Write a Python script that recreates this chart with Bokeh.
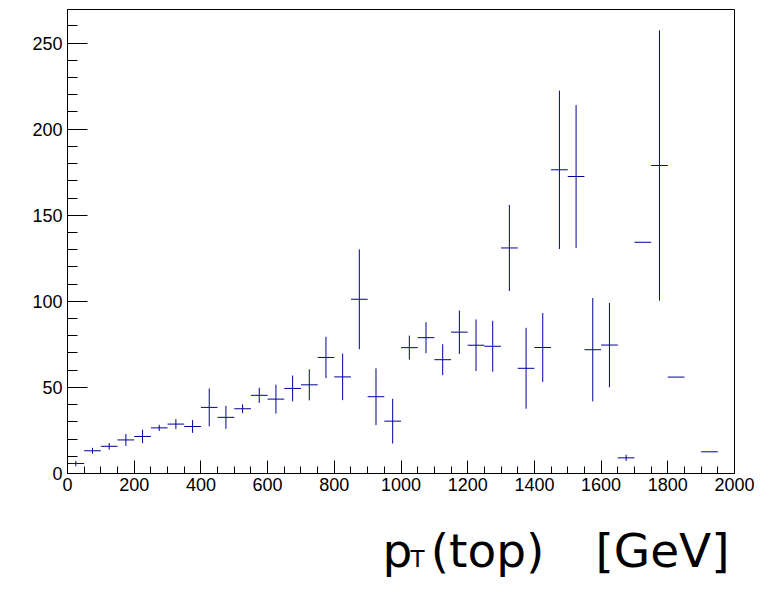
from bokeh.plotting import figure
from bokeh.models import Range1d, FixedTicker, ColumnDataSource
from bokeh.layouts import column
from bokeh.core.properties import value
from bokeh.embed import file_html
from bokeh.resources import INLINE

# ---- data: histogram of pT(top), 40 bins of 50 GeV from 0 to 2000 ----
bin_low = list(range(0, 2000, 50))
bin_width = 50
values = [5.8, 13.2, 15.8, 19.5, 21.5, 26.5, 28.7, 27.3, 38.4, 32.6,
          37.6, 45.4, 43.2, 49.4, 51.5, 67.4, 56.1, 101.2, 44.6, 30.4,
          73.1, 78.9, 66.1, 82.1, 74.5, 73.9, 131.0, 61.1, 73.2, 176.4,
          172.5, 71.9, 74.6, 9.1, 134.3, 178.9, 56.0, 0.0, 12.6, 0.0]
errors = [1.6, 1.7, 1.9, 3.5, 3.9, 1.8, 2.9, 3.7, 11.0, 6.7,
          2.6, 4.4, 8.4, 7.5, 9.0, 12.0, 13.5, 29.0, 16.5, 13.0,
          7.0, 9.0, 9.0, 12.6, 15.0, 14.8, 25.0, 23.5, 20.0, 46.0,
          41.5, 30.0, 24.5, 1.8, 0.0, 78.5, 0.0, 0.0, 0.0, 0.0]

x_ticks = list(range(0, 2001, 200))
x_minor = list(range(0, 2001, 50))
y_ticks = list(range(0, 251, 50))
y_minor = list(range(0, 271, 10))

# x-axis title "pT(top) [GeV]" (T drawn small)
x_title_p = "p"
x_title_sub = "T"
x_title_a = "(top)"
x_title_b = "[GeV]"

# ---- build source (skip empty bins) ----
lo, hi, ctr, val, ylo, yhi = [], [], [], [], [], []
for b, v, e in zip(bin_low, values, errors):
    if v == 0:
        continue
    lo.append(b)
    hi.append(b + bin_width)
    ctr.append(b + bin_width / 2)
    val.append(v)
    ylo.append(v - e)
    yhi.append(v + e)
src = ColumnDataSource(dict(lo=lo, hi=hi, ctr=ctr, val=val, ylo=ylo, yhi=yhi))

p = figure(width=777, height=505, output_backend="svg", toolbar_location=None,
           x_range=Range1d(0, 2000), y_range=Range1d(0, 269.5),
           min_border_left=67, min_border_right=43, min_border_top=9,
           min_border_bottom=32, background_fill_color="white",
           border_fill_color="white")

line_col = "#000099"
p.segment(x0="lo", x1="hi", y0="val", y1="val", source=src,
          line_color=line_col, line_width=1)
p.segment(x0="ctr", x1="ctr", y0="ylo", y1="yhi", source=src,
          line_color=line_col, line_width=1)

p.xgrid.visible = False
p.ygrid.visible = False
p.outline_line_color = "black"
p.outline_line_width = 1
p.outline_line_alpha = 1

p.xaxis.ticker = FixedTicker(ticks=x_ticks, minor_ticks=x_minor)
p.yaxis.ticker = FixedTicker(ticks=y_ticks, minor_ticks=y_minor)
for ax in (p.xaxis, p.yaxis):
    ax.major_tick_out = 0
    ax.minor_tick_out = 0
    ax.axis_line_color = "black"
    ax.major_tick_line_color = "black"
    ax.minor_tick_line_color = "black"
    ax.major_label_text_font = "Liberation Sans"
    ax.major_label_text_font_size = "18px"
    ax.major_label_text_color = "black"
p.xaxis.major_tick_in = 13
p.xaxis.minor_tick_in = 7
p.yaxis.major_tick_in = 20
p.yaxis.minor_tick_in = 10
p.xaxis.major_label_standoff = 4
p.yaxis.major_label_standoff = 5

# ---- x-axis title panel below the plot (coordinates = window pixels) ----
t = figure(width=777, height=89, output_backend="svg", toolbar_location=None,
           x_range=Range1d(67, 734), y_range=Range1d(0, 89),
           min_border_left=67, min_border_right=43, min_border_top=0,
           min_border_bottom=0, background_fill_color="white",
           border_fill_color="white")
t.axis.visible = False
t.grid.visible = False
t.outline_line_color = None

title_font = value("DejaVu Sans")
big, small = 47, 23
base = 28  # baseline, px above window bottom
t.text(x=[382], y=[base + 0.346 * big], text=[x_title_p], text_font=title_font,
       text_font_size=value(f"{big}px"), text_baseline="middle",
       text_align="left", text_color="black")
t.text(x=[410], y=[base + 0.346 * small], text=[x_title_sub], text_font=title_font,
       text_font_size=value(f"{small}px"), text_baseline="middle",
       text_align="left", text_color="black")
t.text(x=[487], y=[base + 0.346 * big], text=[x_title_a], text_font=title_font,
       text_font_size=value(f"{big}px"), text_baseline="middle",
       text_align="center", text_color="black")
t.text(x=[662], y=[base + 0.346 * big], text=[x_title_b], text_font=title_font,
       text_font_size=value(f"{big}px"), text_baseline="middle",
       text_align="center", text_color="black")

layout = column(p, t, spacing=0)
open("out.html", "w").write(file_html(layout, INLINE))
